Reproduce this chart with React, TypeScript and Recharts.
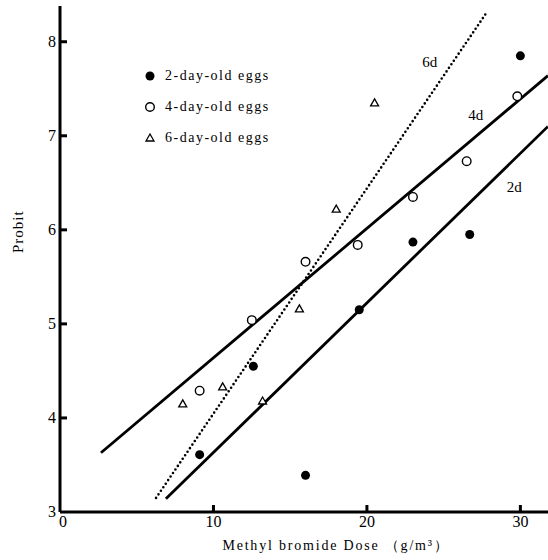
import React from 'react';
import { ComposedChart, Line, Scatter, XAxis, YAxis, ReferenceDot } from 'recharts';

const xTicks = [0, 10, 20, 30];
const yTicks = [3, 4, 5, 6, 7, 8];

const eggs2 = [
  { x: 9.1, y: 3.61 },
  { x: 12.6, y: 4.55 },
  { x: 16.0, y: 3.39 },
  { x: 19.5, y: 5.15 },
  { x: 23.0, y: 5.87 },
  { x: 26.7, y: 5.95 },
  { x: 30.0, y: 7.85 },
];
const eggs4 = [
  { x: 9.1, y: 4.29 },
  { x: 12.5, y: 5.04 },
  { x: 16.0, y: 5.66 },
  { x: 19.4, y: 5.84 },
  { x: 23.0, y: 6.35 },
  { x: 26.5, y: 6.73 },
  { x: 29.8, y: 7.42 },
];
const eggs6 = [
  { x: 8.0, y: 4.15 },
  { x: 10.6, y: 4.33 },
  { x: 13.2, y: 4.18 },
  { x: 15.6, y: 5.16 },
  { x: 18.0, y: 6.22 },
  { x: 20.5, y: 7.35 },
];

const fit2 = [
  { x: 6.9, y: 3.14 },
  { x: 31.8, y: 7.1 },
];
const fit4 = [
  { x: 2.67, y: 3.63 },
  { x: 31.8, y: 7.64 },
];
const fit6 = [
  { x: 6.26, y: 3.15 },
  { x: 27.8, y: 8.31 },
];

const lineLabels = [
  { text: '6d', x: 24.1, y: 7.78 },
  { text: '4d', x: 27.1, y: 7.22 },
  { text: '2d', x: 29.6, y: 6.46 },
];

const legendItems = ['2-day-old eggs', '4-day-old eggs', '6-day-old eggs'];

const FONT = '"Liberation Serif", "DejaVu Serif", serif';

const FilledDot = (p: any) => <circle cx={p.cx} cy={p.cy} r={4.5} fill="#000" />;
const OpenDot = (p: any) => (
  <circle cx={p.cx} cy={p.cy} r={4.3} fill="#fff" stroke="#000" strokeWidth={1.4} />
);
const Tri = (p: any) => (
  <path
    d={`M${p.cx},${p.cy - 4} L${p.cx + 4},${p.cy + 3} L${p.cx - 4},${p.cy + 3} Z`}
    fill="#fff"
    stroke="#000"
    strokeWidth={1.3}
  />
);

const YTick = (p: any) => {
  const { x, y, payload } = p;
  return (
    <g>
      {payload.value !== 3 && (
        <line x1={x} x2={x + 7} y1={y} y2={y} stroke="#000" strokeWidth={3} />
      )}
      <text x={x - 4} y={y} dy={5} textAnchor="end" fontFamily={FONT} fontSize={16} fill="#000">
        {payload.value}
      </text>
    </g>
  );
};

const XTick = (p: any) => {
  const { x, y, payload } = p;
  return (
    <g>
      {payload.value !== 0 && (
        <line x1={x} x2={x} y1={y} y2={y - 7} stroke="#000" strokeWidth={3} />
      )}
      <text x={x + (payload.value === 0 ? 3 : 0)} y={y} dy={15} textAnchor="middle" fontFamily={FONT} fontSize={16} fill="#000">
        {payload.value}
      </text>
    </g>
  );
};

const LineLabel = (p: any) => {
  const { viewBox, value } = p;
  return (
    <text x={viewBox.cx ?? viewBox.x} y={viewBox.cy ?? viewBox.y} dy={5} textAnchor="middle" fontFamily={FONT} fontSize={15} fill="#000">
      {value}
    </text>
  );
};

const legendMarkers = [
  <circle key="a" cx={6} cy={6} r={4.5} fill="#000" />,
  <circle key="b" cx={6} cy={6} r={4.3} fill="#fff" stroke="#000" strokeWidth={1.4} />,
  <path key="c" d="M6,2 L10,9 L2,9 Z" fill="#fff" stroke="#000" strokeWidth={1.3} />,
];

export default function App() {
  return (
    <div style={{ position: 'absolute', left: 0, top: 0, width: 548, height: 560, background: '#fff' }}>
      <ComposedChart
        width={548}
        height={560}
        margin={{ top: 6, right: 0, bottom: 18, left: 20 }}
      >
        <XAxis
          type="number"
          dataKey="x"
          domain={[0, 31.8]}
          ticks={xTicks}
          allowDataOverflow
          stroke="#000"
          strokeWidth={3}
          tickLine={false}
          tickSize={0}
          tickMargin={0}
          tick={XTick}
          height={30}
          label={{
            value: 'Methyl bromide Dose （g/m³）',
            position: 'insideBottom',
            offset: -8,
            dx: 32,
            fontFamily: FONT,
            fontSize: 14,
            fill: '#000',
            letterSpacing: 1.8,
          }}
        />
        <YAxis
          type="number"
          dataKey="y"
          domain={[3, 8.38]}
          ticks={yTicks}
          allowDataOverflow
          stroke="#000"
          strokeWidth={3}
          tickLine={false}
          tickSize={0}
          tickMargin={0}
          tick={YTick}
          width={40}
          label={{
            value: 'Probit',
            angle: -90,
            position: 'insideLeft',
            dx: -7,
            dy: -6,
            fontFamily: FONT,
            fontSize: 15,
            fill: '#000',
            letterSpacing: 1,
          }}
        />
        <Line data={fit4} dataKey="y" stroke="#000" strokeWidth={2.8} dot={false} isAnimationActive={false} />
        <Line data={fit2} dataKey="y" stroke="#000" strokeWidth={2.8} dot={false} isAnimationActive={false} />
        <Line
          data={fit6}
          dataKey="y"
          stroke="#000"
          strokeWidth={2.6}
          strokeDasharray="0 4.3"
          strokeLinecap="round"
          dot={false}
          isAnimationActive={false}
        />
        <Scatter data={eggs2} dataKey="y" shape={FilledDot} isAnimationActive={false} />
        <Scatter data={eggs4} dataKey="y" shape={OpenDot} isAnimationActive={false} />
        <Scatter data={eggs6} dataKey="y" shape={Tri} isAnimationActive={false} />
        {lineLabels.map((l) => (
          <ReferenceDot
            key={l.text}
            x={l.x}
            y={l.y}
            r={0}
            fill="none"
            stroke="none"
            label={<LineLabel value={l.text} />}
          />
        ))}
      </ComposedChart>
      <div style={{ position: 'absolute', left: 144, top: 60, fontFamily: FONT, fontSize: 14, letterSpacing: 1.5 }}>
        {legendItems.map((t, i) => (
          <div key={t} style={{ height: 31, display: 'flex', alignItems: 'center' }}>
            <svg width={12} height={12} style={{ marginRight: 9 }}>
              {legendMarkers[i]}
            </svg>
            <span>{t}</span>
          </div>
        ))}
      </div>
    </div>
  );
}
